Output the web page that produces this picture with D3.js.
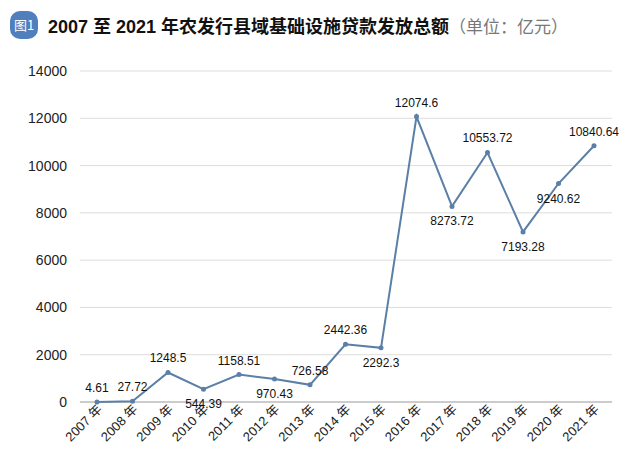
<!DOCTYPE html>
<html><head><meta charset="utf-8">
<script src="https://cdn.jsdelivr.net/npm/d3@7"></script>
<style>body{margin:0;background:#fff;font-family:"Liberation Sans","Noto Sans CJK SC",sans-serif}</style>
</head><body><svg width="643" height="463"></svg>
<script>
var years = ['2007','2008','2009','2010','2011','2012','2013','2014','2015','2016','2017','2018','2019','2020','2021'];
var values = [4.61,27.72,1248.5,544.39,1158.51,970.43,726.58,2442.36,2292.3,12074.6,8273.72,10553.72,7193.28,9240.62,10840.64];
var yTicks = [0,2000,4000,6000,8000,10000,12000,14000];
// label placement: 1 = above, -1 = below
var labelSide = [1,1,1,-1,1,-1,1,1,-1,1,-1,1,-1,-1,1];

var svg = d3.select('svg');
var x = d3.scalePoint().domain(years).range([97,594]);
var y = d3.scaleLinear().domain([0,14000]).range([402,71]);

// title
svg.append('rect').attr('x',10).attr('y',11).attr('width',28).attr('height',28).attr('rx',10).attr('fill','#4f7fbd');
svg.append('text').attr('x',24).attr('y',30).attr('text-anchor','middle').attr('fill','#fff')
  .attr('font-size',13).attr('font-family','Noto Sans CJK SC').text('图1');
var t = svg.append('text').attr('x',48).attr('y',33).attr('font-size',18).attr('font-weight','bold').attr('fill','#111')
  .attr('font-family','Liberation Sans, Noto Sans CJK SC');
t.append('tspan').text('2007 至 2021 年农发行县域基础设施贷款发放总额');
t.append('tspan').attr('font-weight','normal').attr('fill','#777').attr('font-size',17).text('（单位：亿元）');

// grid + y axis
svg.append('g').selectAll('line').data(yTicks).join('line')
  .attr('x1',80).attr('x2',612).attr('y1',y).attr('y2',y)
  .attr('stroke',function(d){return d===0?'#999':'#ddd';}).attr('stroke-width',1);
svg.append('g').selectAll('text').data(yTicks).join('text')
  .attr('x',67).attr('y',function(d){return y(d)+5;}).attr('text-anchor','end')
  .attr('font-size',14).attr('fill','#222').text(function(d){return d;});

// x labels
svg.append('g').selectAll('text').data(years).join('text')
  .attr('transform',function(d){return 'translate('+(x(d)+6)+',410) rotate(-45)';})
  .attr('text-anchor','end').attr('font-size',13).attr('fill','#222')
  .text(function(d){return d+' 年';});

// line
var line = d3.line().x(function(d,i){return x(years[i]);}).y(function(d){return y(d);});
svg.append('path').datum(values).attr('d',line).attr('fill','none').attr('stroke','#5b7fa6').attr('stroke-width',2);
svg.append('g').selectAll('circle').data(values).join('circle')
  .attr('cx',function(d,i){return x(years[i]);}).attr('cy',y).attr('r',2.5).attr('fill','#5b7fa6');

svg.append('g').selectAll('text').data(values).join('text')
  .attr('x',function(d,i){return x(years[i]);})
  .attr('y',function(d,i){return y(d)+(labelSide[i]>0?-10:19);})
  .attr('text-anchor','middle').attr('font-size',12).attr('fill','#111')
  .text(function(d){return d;});
</script></body></html>
